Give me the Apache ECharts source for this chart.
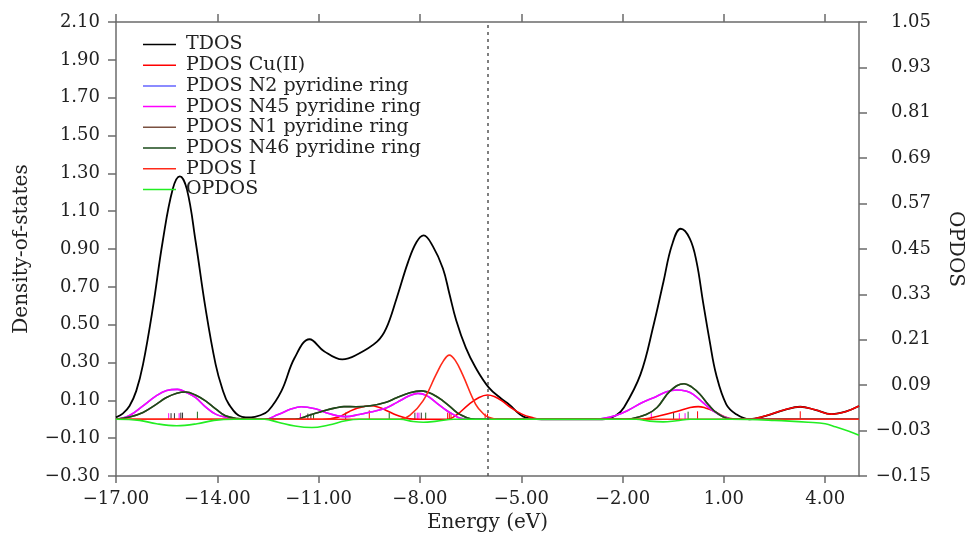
<!DOCTYPE html>
<html>
<head>
<meta charset="utf-8">
<script src="https://cdn.jsdelivr.net/npm/echarts@6/dist/echarts.min.js"></script>
<style>html,body{margin:0;padding:0;background:#fff}#c{width:973px;height:538px}</style>
</head>
<body>
<div id="c"></div>
<script>
// ---- axis ticks ----
const energyTicks = [-17, -14, -11, -8, -5, -2, 1, 4];
const dosTicks = [-0.30, -0.10, 0.10, 0.30, 0.50, 0.70, 0.90, 1.10, 1.30, 1.50, 1.70, 1.90, 2.10];
const opdosTicks = [-0.15, -0.03, 0.09, 0.21, 0.33, 0.45, 0.57, 0.69, 0.81, 0.93, 1.05];
const fermiLevel = -6.0;

// ---- series names ----
const seriesNames = ['TDOS', 'PDOS Cu(II)', 'PDOS N2 pyridine ring', 'PDOS N45 pyridine ring',
  'PDOS N1 pyridine ring', 'PDOS N46 pyridine ring', 'PDOS I', 'OPDOS'];

// ---- TDOS ----
const tdosE = [-17.0,-16.8,-16.6,-16.4,-16.2,-15.91,-15.62,-15.32,-15.11,-14.9,-14.64,-14.35,-14.05,-13.85,-13.66,-13.27,-13.0,-12.75,-12.49,-12.1,-11.71,-11.27,-10.84,-10.3,-9.86,-9.27,-9.0,-8.69,-8.35,-8.1,-7.89,-7.62,-7.32,-7.13,-6.93,-6.64,-6.35,-5.96,-5.6,-5.37,-4.88,-4.4,-2.6,-2.2,-1.96,-1.47,-1.08,-0.79,-0.54,-0.28,-0.01,0.19,0.38,0.58,0.77,1.07,1.36,1.75,2.24,2.8,3.26,3.7,4.19,4.6,5.0];
const tdosV = [0.01,0.03,0.07,0.15,0.29,0.587,0.937,1.217,1.284,1.215,0.937,0.587,0.29,0.16,0.08,0.013,0.01,0.02,0.045,0.15,0.325,0.423,0.36,0.316,0.342,0.41,0.48,0.64,0.832,0.937,0.972,0.915,0.797,0.665,0.525,0.377,0.272,0.167,0.11,0.079,0.01,0.0,0.0,0.02,0.062,0.237,0.5,0.727,0.92,1.007,0.955,0.832,0.622,0.412,0.237,0.079,0.027,0.0,0.018,0.05,0.066,0.05,0.027,0.04,0.07];

// ---- PDOS Cu(II) ----
const cuE = [-17.0,-10.9,-10.44,-10.1,-9.86,-9.47,-9.2,-8.98,-8.7,-8.49,-8.3,-8.0,-7.2,-6.9,-6.55,-6.25,-6.0,-5.8,-5.57,-5.3,-4.98,-4.7,-4.4,-1.5,-1.37,-0.9,-0.4,0.0,0.24,0.45,0.68,1.0,1.26,1.75,2.24,2.8,3.26,3.7,4.19,4.6,5.0];
const cuV = [0,0,0.01,0.04,0.058,0.071,0.062,0.045,0.022,0.01,0.002,0,0,0.025,0.079,0.115,0.128,0.12,0.097,0.06,0.027,0.01,0,0,0.001,0.018,0.041,0.062,0.067,0.06,0.045,0.015,0.002,0,0.018,0.05,0.066,0.05,0.027,0.04,0.07];

// ---- PDOS N45 pyridine ring ----
const n45E = [-17.0,-16.6,-16.2,-15.8,-15.5,-15.18,-14.9,-14.64,-14.35,-14.05,-13.6,-13.2,-12.6,-12.2,-11.8,-11.52,-11.1,-10.7,-10.44,-10.2,-9.8,-9.47,-9.0,-8.69,-8.3,-8.06,-7.8,-7.52,-7.2,-7.03,-6.8,-6.5,-2.8,-2.64,-2.2,-1.86,-1.4,-1.08,-0.7,-0.4,-0.1,0.09,0.4,0.68,1.0,1.26,5.0];
const n45V = [0,0.02,0.071,0.125,0.152,0.158,0.14,0.114,0.065,0.027,0.005,0,0,0.025,0.055,0.066,0.055,0.03,0.018,0.014,0.025,0.038,0.06,0.088,0.125,0.137,0.125,0.088,0.045,0.027,0.005,0,0,0.002,0.02,0.045,0.09,0.114,0.145,0.155,0.148,0.132,0.085,0.045,0.012,0,0];

// ---- PDOS N2 pyridine ring (lies under N45) ----
const n2E = n45E.slice();
const n2V = n45V.slice();

// ---- PDOS N46 pyridine ring ----
const n46E = [-17.0,-16.6,-16.2,-15.8,-15.52,-15.2,-14.93,-14.65,-14.35,-14.05,-13.76,-13.4,-13.0,-11.7,-11.3,-10.84,-10.5,-10.25,-9.9,-9.47,-9.0,-8.69,-8.3,-7.96,-7.6,-7.32,-7.0,-6.83,-6.5,-6.2,-1.9,-1.76,-1.3,-0.98,-0.59,-0.18,0.05,0.29,0.55,0.77,1.16,1.4,5.0];
const n46V = [0,0.012,0.036,0.08,0.114,0.138,0.144,0.128,0.097,0.055,0.018,0.004,0,0,0.02,0.045,0.06,0.067,0.066,0.071,0.09,0.114,0.14,0.15,0.13,0.097,0.05,0.027,0.003,0,0,0.002,0.025,0.062,0.15,0.188,0.17,0.132,0.075,0.036,0.002,0,0];

// ---- PDOS N1 pyridine ring (lies under N46) ----
const n1E = n46E.slice();
const n1V = n46V.slice();

// ---- PDOS I ----
const iE = [-17.0,-8.59,-8.3,-7.91,-7.52,-7.3,-7.13,-6.95,-6.74,-6.35,-6.1,-5.96,-5.7,5.0];
const iV = [0,0,0.02,0.097,0.237,0.31,0.339,0.31,0.237,0.079,0.025,0.01,0,0];

// ---- OPDOS (right axis) ----
const opE = [-17.0,-16.3,-15.8,-15.2,-14.6,-14.1,-13.5,-12.6,-12.2,-11.7,-11.2,-10.7,-10.2,-9.8,-8.6,-8.2,-7.9,-7.5,-7.0,-1.6,-1.2,-0.8,-0.4,0.0,1.2,2.5,3.5,4.0,4.3,4.7,5.0];
const opV = [0,-0.003,-0.012,-0.017,-0.012,-0.003,0,0,-0.008,-0.018,-0.022,-0.015,-0.004,0,0,-0.006,-0.008,-0.005,0,0,-0.005,-0.007,-0.004,0,0,-0.003,-0.008,-0.012,-0.02,-0.032,-0.042];

// ---- eigenvalue sticks ----
const stickN45E = [-15.44,-15.13,-11.54,-8.08,-8.03,-1.15,-0.32,-0.15];
const stickN45H = [0.032,0.032,0.032,0.035,0.035,0.032,0.032,0.032];
const stickDarkE = [-15.37,-15.27,-15.08,-15.03,-11.32,-11.23,-8.15,-7.96,-0.49];
const stickDarkH = [0.032,0.032,0.035,0.035,0.03,0.03,0.035,0.035,0.035];
const stickN46E = [-14.59,-11.15,-10.2,-8.91,-7.83,-0.06];
const stickN46H = [0.04,0.03,0.035,0.035,0.035,0.04];
const stickRedE = [-9.5,-7.18,-7.13,-7.08,-6.07,-6.0,0.22,3.26];
const stickRedH = [0.047,0.035,0.035,0.035,0.03,0.03,0.042,0.042];

const zip = (a, b) => a.map((x, i) => [x, b[i]]);
const fmt = v => (v < 0 ? '\u2212' : '') + Math.abs(v).toFixed(2);
const FONT = 'DejaVu Serif';
const AX = '#6b6b6b';

function lineSeries(name, e, v, color, width, yIdx) {
  return {
    name, type: 'line', data: zip(e, v), yAxisIndex: yIdx || 0,
    symbol: 'none', smooth: 0.4, animation: false,
    lineStyle: { color, width }, itemStyle: { color }
  };
}
function stickSeries(name, e, h, color) {
  return {
    name, type: 'custom', data: zip(e, h), animation: false, silent: true,
    renderItem: (params, api) => {
      const p0 = api.coord([api.value(0), 0]);
      const p1 = api.coord([api.value(0), api.value(1)]);
      return { type: 'line', shape: { x1: p0[0], y1: p0[1], x2: p1[0], y2: p1[1] },
               style: { stroke: color, lineWidth: 1 } };
    }
  };
}

const tdos = lineSeries(seriesNames[0], tdosE, tdosV, '#000000', 1.8);
tdos.markLine = {
  silent: true, symbol: ['none', 'none'], label: { show: false }, animation: false,
  lineStyle: { color: '#555', type: [3, 4], width: 1.5 },
  data: [{ xAxis: fermiLevel }]
};

const chart = echarts.init(document.getElementById('c'), null, { renderer: 'canvas' });
chart.setOption({
  backgroundColor: '#ffffff',
  animation: false,
  textStyle: { fontFamily: FONT },
  grid: { left: 116, right: 104, top: 22, bottom: 59, containLabel: false },
  legend: {
    data: seriesNames, orient: 'vertical', left: 138, top: 30,
    icon: 'rect', itemWidth: 33, itemHeight: 1.5, itemGap: 1.7,
    textStyle: { fontFamily: FONT, fontSize: 19, color: '#222', lineHeight: 18, padding: [0, 0, 0, 5] },
    selectedMode: false
  },
  xAxis: [{
    type: 'value', min: -17, max: 5, position: 'bottom',
    name: 'Energy (eV)', nameLocation: 'middle', nameGap: 37,
    nameTextStyle: { fontFamily: FONT, fontSize: 20, color: '#222' },
    axisLine: { onZero: false, lineStyle: { color: AX, width: 1.5 } },
    axisTick: { length: 7, lineStyle: { color: AX, width: 1.5 }, customValues: energyTicks },
    axisLabel: { customValues: energyTicks, formatter: fmt, margin: 14, fontFamily: FONT, fontSize: 18, color: '#222' },
    splitLine: { show: false }
  }, {
    type: 'value', min: -17, max: 5, position: 'top',
    axisLine: { onZero: false, lineStyle: { color: AX, width: 1.5 } },
    axisTick: { length: 8, lineStyle: { color: AX, width: 1.5 }, customValues: energyTicks },
    axisLabel: { show: false },
    splitLine: { show: false }
  }],
  yAxis: [{
    type: 'value', min: -0.3, max: 2.1, position: 'left',
    name: 'Density-of-states', nameLocation: 'middle', nameGap: 84,
    nameTextStyle: { fontFamily: FONT, fontSize: 20, color: '#222' },
    axisLine: { show: true, onZero: false, lineStyle: { color: AX, width: 1.5 } },
    axisTick: { show: true, length: 8, lineStyle: { color: AX, width: 1.5 }, customValues: dosTicks },
    axisLabel: { customValues: dosTicks, formatter: fmt, margin: 16, fontFamily: FONT, fontSize: 18, color: '#222' },
    splitLine: { show: false }
  }, {
    type: 'value', min: -0.15, max: 1.05, position: 'right',
    name: 'OPDOS', nameLocation: 'middle', nameGap: 86, nameRotate: -90,
    nameTextStyle: { fontFamily: FONT, fontSize: 20, color: '#222' },
    axisLine: { show: true, onZero: false, lineStyle: { color: AX, width: 1.5 } },
    axisTick: { show: true, length: 8, lineStyle: { color: AX, width: 1.5 }, customValues: opdosTicks },
    axisLabel: { customValues: opdosTicks, formatter: fmt, margin: 72, align: 'right', fontFamily: FONT, fontSize: 18, color: '#222' },
    splitLine: { show: false }
  }],
  series: [
    tdos,
    lineSeries(seriesNames[1], cuE, cuV, '#ff0000', 1.6),
    lineSeries(seriesNames[2], n2E, n2V, '#6464ff', 1.6),
    lineSeries(seriesNames[3], n45E, n45V, '#ff00ff', 1.6),
    lineSeries(seriesNames[4], n1E, n1V, '#7a5040', 1.6),
    lineSeries(seriesNames[5], n46E, n46V, '#1a4a1a', 1.6),
    lineSeries(seriesNames[6], iE, iV, '#ff2a1a', 1.6),
    lineSeries(seriesNames[7], opE, opV, '#22ee22', 1.6, 1),
    stickSeries('sticks N45', stickN45E, stickN45H, '#ff00ff'),
    stickSeries('sticks dark', stickDarkE, stickDarkH, '#333333'),
    stickSeries('sticks N46', stickN46E, stickN46H, '#1a6a1a'),
    stickSeries('sticks red', stickRedE, stickRedH, '#ff0000')
  ]
});
</script>
</body>
</html>
